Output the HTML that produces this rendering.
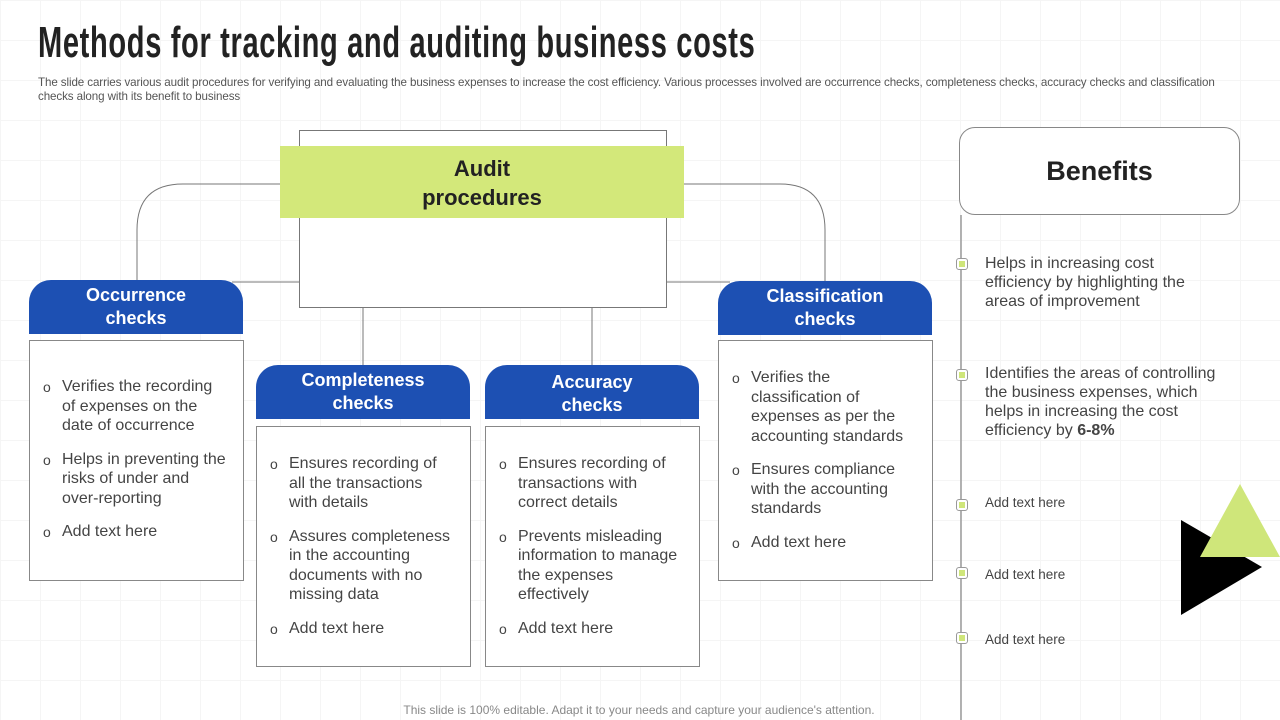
<!DOCTYPE html>
<html><head><meta charset="utf-8"><style>
*{margin:0;padding:0;box-sizing:border-box}
body{width:1280px;height:720px;position:relative;overflow:hidden;font-family:"Liberation Sans",sans-serif;background:#fff;
background-image:linear-gradient(#f5f5f5 1px,transparent 1px),linear-gradient(90deg,#f5f5f5 1px,transparent 1px);background-size:40px 40px}
.a{position:absolute}
.title{left:38px;top:18px;font-family:"Liberation Sans Narrow","Liberation Sans",sans-serif;font-weight:bold;font-size:44px;color:#222;white-space:nowrap;transform-origin:left top;transform:scaleX(0.66);letter-spacing:1px}
.sub{left:38px;top:76px;width:1180px;font-size:11.6px;line-height:14px;color:#555;letter-spacing:-0.1px}
.hdr{position:absolute;background:#1d50b3;color:#fff;font-weight:bold;font-size:18px;line-height:23px;text-align:center;border-radius:22px 22px 0 0;display:flex;align-items:center;justify-content:center}
.box{position:absolute;background:#fff;border:1px solid #888;font-size:16px;line-height:19.5px;color:#444;padding-right:16px}
.box ul{list-style:none}
.box li{position:relative;padding-left:32px;margin-bottom:14px}
.box li:before{content:"o";position:absolute;left:13px;top:1px;font-size:14px}
.ben{position:absolute;left:985px;font-size:16px;line-height:19px;color:#444}
.sm{font-size:13.5px}
.mk{position:absolute;left:956px;width:12px;height:12px;border:1px solid #999;border-radius:3px;background:#fff}
.mk:after{content:"";position:absolute;left:2px;top:2px;width:6px;height:6px;background:#cfe67a}
</style></head><body>
<div class="a title">Methods for tracking and auditing business costs</div>
<div class="a sub">The slide carries various audit procedures for verifying and evaluating the business expenses to increase the cost efficiency. Various processes involved are occurrence checks, completeness checks, accuracy checks and classification checks along with its benefit to business</div>

<svg class="a" style="left:0;top:0" width="1280" height="720">
<g fill="none" stroke="#777" stroke-width="1">
<path d="M137 281 V230 Q137 184 183 184 H282"/>
<path d="M682 184 H780 Q825 184 825 230 V281"/>
<path d="M232 282 H300"/>
<path d="M666 282 H730"/>
<path d="M363 307 V366"/>
<path d="M592 307 V366"/>
<line x1="961" y1="215" x2="961" y2="720" stroke="#999" stroke-width="1.5"/>
</g>
<polygon points="1181,520 1262,567 1181,615" fill="#000"/>
<polygon points="1240,484 1280,557 1200,557" fill="#cfe67a"/>
</svg>

<div class="a" style="left:299px;top:130px;width:368px;height:178px;border:1px solid #777;background:#fff"></div>
<div class="a" style="left:280px;top:146px;width:404px;height:72px;background:#d3e87a;text-align:center;font-weight:bold;font-size:22px;line-height:29px;color:#222;padding-top:8px">Audit<br>procedures</div>

<div class="hdr" style="left:29px;top:280px;width:214px;height:54px">Occurrence<br>checks</div>
<div class="box" style="left:29px;top:340px;width:215px;height:241px;padding-top:36px"><ul>
<li>Verifies the recording of expenses on the date of occurrence</li>
<li>Helps in preventing the risks of under and over-reporting</li>
<li>Add text here</li></ul></div>

<div class="hdr" style="left:256px;top:365px;width:214px;height:54px">Completeness<br>checks</div>
<div class="box" style="left:256px;top:426px;width:215px;height:241px;padding-top:27px"><ul>
<li>Ensures recording of all the transactions with details</li>
<li>Assures completeness in the accounting documents with no missing data</li>
<li>Add text here</li></ul></div>

<div class="hdr" style="left:485px;top:365px;width:214px;height:54px;padding-top:4px">Accuracy<br>checks</div>
<div class="box" style="left:485px;top:426px;width:215px;height:241px;padding-top:27px"><ul>
<li>Ensures recording of transactions with correct details</li>
<li>Prevents misleading information to manage the expenses effectively</li>
<li>Add text here</li></ul></div>

<div class="hdr" style="left:718px;top:281px;width:214px;height:54px">Classification<br>checks</div>
<div class="box" style="left:718px;top:340px;width:215px;height:241px;padding-top:27px;padding-right:26px"><ul>
<li>Verifies the classification of expenses as per the accounting standards</li>
<li>Ensures compliance with the accounting standards</li>
<li>Add text here</li></ul></div>

<div class="a" style="left:959px;top:127px;width:281px;height:88px;border:1px solid #888;border-radius:16px;background:#fff;text-align:center;font-weight:bold;font-size:27px;line-height:86px;color:#222">Benefits</div>

<div class="mk" style="top:258px"></div>
<div class="ben" style="top:254px">Helps in increasing cost<br>efficiency by highlighting the<br>areas of improvement</div>
<div class="mk" style="top:369px"></div>
<div class="ben" style="top:364px">Identifies the areas of controlling<br>the business expenses, which<br>helps in increasing the cost<br>efficiency by <b>6-8%</b></div>
<div class="mk" style="top:499px"></div>
<div class="ben sm" style="top:493px">Add text here</div>
<div class="mk" style="top:567px"></div>
<div class="ben sm" style="top:565px">Add text here</div>
<div class="mk" style="top:632px"></div>
<div class="ben sm" style="top:630px">Add text here</div>

<div class="a" style="left:0;width:1278px;top:703px;text-align:center;font-size:12px;color:#888">This slide is 100% editable. Adapt it to your needs and capture your audience's attention.</div>
</body></html>
